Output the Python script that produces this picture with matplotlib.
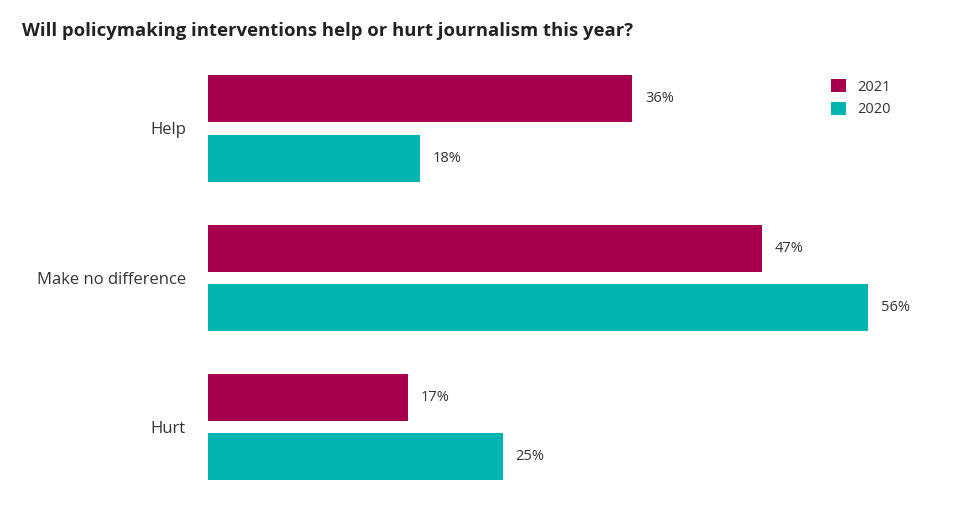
import matplotlib
matplotlib.use("Agg")
import matplotlib.pyplot as plt
from matplotlib.patches import Patch
import numpy as np

plt.rcParams['font.family'] = ['Open Sans', 'DejaVu Sans']

categories = ["Help", "Make no difference", "Hurt"]
values_2021 = [36, 47, 17]
values_2020 = [18, 56, 25]
series_names = ["2021", "2020"]
colors = ["#A6004F", "#00B5B0"]
title = "Will policymaking interventions help or hurt journalism this year?"

fig = plt.figure(figsize=(9.77, 5.12), dpi=100)
ax = fig.add_axes([208/977, 17/512, 722/977, 435/512])

y = np.arange(len(categories))
h = 0.315
off = 0.198
b1 = ax.barh(y - off, values_2021, height=h, color=colors[0], label=series_names[0])
b2 = ax.barh(y + off, values_2020, height=h, color=colors[1], label=series_names[1])

for bars, vals in ((b1, values_2021), (b2, values_2020)):
    for rect, v in zip(bars, vals):
        ax.annotate(f"{v}%", xy=(rect.get_width(), rect.get_y() + rect.get_height()/2),
                    xytext=(9, 0), textcoords="offset points", ha="left", va="center",
                    fontsize=10.5, color="#333333")

ax.set_xlim(0, 722/11.79)
ax.set_ylim(2 + (495-427)/149.25, -68.5/149.25)
ax.set_yticks(y)
ax.set_yticklabels(categories, fontsize=12, color="#333333")
ax.tick_params(axis='y', length=0, pad=16)
ax.set_xticks([])
for s in ax.spines.values():
    s.set_visible(False)

fig.text(22/977, 1 - 31/512, title, fontsize=13.3, fontweight="bold", color="#222222",
         ha="left", va="center")

handles = [Patch(facecolor=c, label=n) for c, n in zip(colors, series_names)]
fig.legend(handles=handles, loc="upper left", bbox_to_anchor=(818/977, 1 - 66/512),
           frameon=False, fontsize=10.5, handlelength=1.0, handleheight=1.0,
           handletextpad=0.8, labelspacing=0.5, labelcolor="#333333")

fig.savefig("out.png", dpi=100)
